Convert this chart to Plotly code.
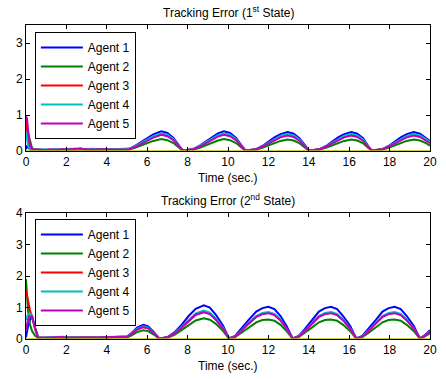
import plotly.graph_objects as go

# ---------------- data: 1st state ----------------
t_top = [0, 0.05, 0.1, 0.2, 0.3, 0.45, 0.6, 0.9, 1.2, 1.5, 1.8, 2.1, 2.4, 2.7, 3.0, 3.3, 3.6, 3.9,
         4.2, 4.5, 4.8, 5.1, 5.4, 5.7, 6.0, 6.3, 6.7, 7.0, 7.3, 7.55, 7.75, 8.0, 8.3, 8.6, 8.9, 9.2,
         9.5, 9.8, 10.1, 10.4, 10.65, 10.85, 11.1, 11.4, 11.7, 12.0, 12.3, 12.6, 12.95, 13.25, 13.55,
         13.8, 14.0, 14.25, 14.55, 14.85, 15.15, 15.45, 15.75, 16.1, 16.4, 16.7, 16.9, 17.1, 17.35,
         17.65, 17.95, 18.25, 18.55, 18.85, 19.2, 19.5, 19.8, 20.0]

top_a1 = [0.05, 0.15, 0.10, 0.05, 0.03, 0.03, 0.04,
          0.03, 0.04, 0.03, 0.05, 0.04, 0.05, 0.06, 0.04, 0.05, 0.04, 0.05, 0.04, 0.05, 0.05,
          0.06, 0.14, 0.25, 0.36, 0.46, 0.55, 0.50, 0.36, 0.18, 0.02,
          0.03, 0.06, 0.15, 0.27, 0.39, 0.49, 0.55, 0.50, 0.36, 0.18, 0.02,
          0.03, 0.05, 0.14, 0.26, 0.38, 0.47, 0.53, 0.48, 0.35, 0.17, 0.02,
          0.03, 0.05, 0.14, 0.26, 0.38, 0.47, 0.53, 0.48, 0.35, 0.17, 0.02,
          0.03, 0.05, 0.14, 0.26, 0.38, 0.47, 0.53, 0.48, 0.37, 0.28]
top_a2 = [0.30, 0.60, 0.50, 0.30, 0.08, 0.04, 0.03,
          0.02, 0.03, 0.02, 0.03, 0.02, 0.03, 0.04, 0.02, 0.03, 0.02, 0.03, 0.03, 0.03, 0.03,
          0.04, 0.09, 0.15, 0.22, 0.28, 0.33, 0.30, 0.22, 0.11, 0.01,
          0.02, 0.04, 0.09, 0.16, 0.23, 0.29, 0.33, 0.30, 0.22, 0.11, 0.01,
          0.02, 0.04, 0.09, 0.16, 0.23, 0.28, 0.32, 0.29, 0.21, 0.10, 0.01,
          0.02, 0.04, 0.09, 0.16, 0.23, 0.28, 0.32, 0.29, 0.21, 0.10, 0.01,
          0.02, 0.04, 0.09, 0.16, 0.23, 0.28, 0.32, 0.29, 0.22, 0.15]
top_a3 = [0.90, 0.50, 0.25, 0.08, 0.04, 0.03, 0.04,
          0.03, 0.04, 0.03, 0.04, 0.05, 0.04, 0.06, 0.04, 0.05, 0.04, 0.04, 0.04, 0.05, 0.04,
          0.05, 0.12, 0.21, 0.30, 0.39, 0.47, 0.43, 0.31, 0.15, 0.02,
          0.03, 0.05, 0.13, 0.23, 0.33, 0.42, 0.47, 0.43, 0.31, 0.15, 0.02,
          0.03, 0.05, 0.12, 0.22, 0.32, 0.40, 0.45, 0.41, 0.30, 0.14, 0.02,
          0.03, 0.05, 0.12, 0.22, 0.32, 0.40, 0.45, 0.41, 0.30, 0.14, 0.02,
          0.03, 0.05, 0.12, 0.22, 0.32, 0.40, 0.45, 0.41, 0.31, 0.23]
top_a4 = [0.55, 0.35, 0.15, 0.05, 0.03, 0.04, 0.05,
          0.04, 0.03, 0.05, 0.04, 0.06, 0.05, 0.05, 0.05, 0.06, 0.04, 0.05, 0.05, 0.06, 0.05,
          0.06, 0.13, 0.22, 0.32, 0.41, 0.49, 0.45, 0.33, 0.16, 0.02,
          0.03, 0.05, 0.14, 0.24, 0.35, 0.44, 0.49, 0.45, 0.33, 0.16, 0.02,
          0.03, 0.05, 0.13, 0.23, 0.34, 0.42, 0.47, 0.43, 0.31, 0.15, 0.02,
          0.03, 0.05, 0.13, 0.23, 0.34, 0.42, 0.47, 0.43, 0.31, 0.15, 0.02,
          0.03, 0.05, 0.13, 0.23, 0.34, 0.42, 0.47, 0.43, 0.33, 0.25]
top_a5 = [0.97, 0.90, 0.60, 0.15, 0.05, 0.04, 0.05,
          0.03, 0.04, 0.03, 0.05, 0.04, 0.06, 0.07, 0.04, 0.05, 0.04, 0.05, 0.04, 0.05, 0.05,
          0.05, 0.11, 0.20, 0.29, 0.37, 0.45, 0.41, 0.30, 0.15, 0.02,
          0.03, 0.05, 0.12, 0.22, 0.32, 0.40, 0.45, 0.41, 0.30, 0.15, 0.02,
          0.03, 0.05, 0.12, 0.21, 0.31, 0.38, 0.43, 0.39, 0.28, 0.14, 0.02,
          0.03, 0.05, 0.12, 0.21, 0.31, 0.38, 0.43, 0.39, 0.28, 0.14, 0.02,
          0.03, 0.05, 0.12, 0.21, 0.31, 0.38, 0.43, 0.39, 0.29, 0.22]

# ---------------- data: 2nd state ----------------
t_bot = [0, 0.05, 0.1, 0.2, 0.3, 0.45, 0.6, 0.9, 1.2, 1.5, 1.8, 2.1, 2.4, 2.7, 3.0, 3.3, 3.6, 3.9,
         4.2, 4.5, 4.8, 5.0, 5.25, 5.5, 5.8, 6.05, 6.3, 6.6, 7.0, 7.35, 7.7, 8.05, 8.4, 8.8, 9.1,
         9.4, 9.75, 10.05, 10.35, 10.65, 11.0, 11.4, 11.7, 12.0, 12.3, 12.6, 12.9, 13.2, 13.5, 13.8,
         14.15, 14.5, 14.8, 15.1, 15.4, 15.7, 16.05, 16.35, 16.65, 16.95, 17.3, 17.65, 17.95, 18.25,
         18.55, 18.85, 19.2, 19.5, 19.75, 20.0]

bot_a1 = [0.05, 0.25, 0.40, 0.60, 0.72, 0.35, 0.05,
          0.04, 0.05, 0.04, 0.06, 0.05, 0.04, 0.05, 0.04, 0.04, 0.05, 0.06, 0.06, 0.07, 0.07,
          0.08, 0.20, 0.36, 0.45, 0.40, 0.24, 0.02,
          0.06, 0.21, 0.45, 0.73, 0.96, 1.07, 1.00, 0.77, 0.43, 0.02,
          0.10, 0.31, 0.59, 0.87, 0.98, 1.02, 0.95, 0.73, 0.41, 0.02,
          0.10, 0.31, 0.59, 0.87, 0.98, 1.02, 0.95, 0.73, 0.41, 0.02,
          0.10, 0.31, 0.59, 0.87, 0.98, 1.02, 0.95, 0.73, 0.41, 0.02,
          0.12, 0.28]
bot_a2 = [1.90, 1.40, 0.90, 0.45, 0.25, 0.10, 0.04,
          0.03, 0.04, 0.03, 0.04, 0.03, 0.03, 0.04, 0.03, 0.03, 0.04, 0.04, 0.05, 0.05, 0.05,
          0.05, 0.12, 0.22, 0.28, 0.25, 0.15, 0.01,
          0.04, 0.13, 0.28, 0.45, 0.59, 0.66, 0.61, 0.48, 0.26, 0.01,
          0.06, 0.19, 0.36, 0.53, 0.60, 0.62, 0.58, 0.45, 0.25, 0.01,
          0.06, 0.19, 0.36, 0.53, 0.60, 0.62, 0.58, 0.45, 0.25, 0.01,
          0.06, 0.19, 0.36, 0.53, 0.60, 0.62, 0.58, 0.45, 0.25, 0.01,
          0.08, 0.18]
bot_a3 = [1.55, 1.35, 1.15, 0.90, 0.70, 0.30, 0.05,
          0.04, 0.05, 0.04, 0.05, 0.05, 0.04, 0.05, 0.04, 0.04, 0.05, 0.05, 0.06, 0.06, 0.07,
          0.07, 0.17, 0.30, 0.38, 0.34, 0.20, 0.02,
          0.05, 0.17, 0.36, 0.58, 0.77, 0.86, 0.80, 0.62, 0.34, 0.02,
          0.08, 0.25, 0.48, 0.71, 0.80, 0.83, 0.77, 0.60, 0.33, 0.02,
          0.08, 0.25, 0.48, 0.71, 0.80, 0.83, 0.77, 0.60, 0.33, 0.02,
          0.08, 0.25, 0.48, 0.71, 0.80, 0.83, 0.77, 0.60, 0.33, 0.02,
          0.10, 0.23]
bot_a4 = [0.60, 0.70, 0.78, 0.80, 0.75, 0.35, 0.06,
          0.05, 0.06, 0.05, 0.07, 0.06, 0.05, 0.06, 0.05, 0.05, 0.06, 0.07, 0.07, 0.08, 0.08,
          0.08, 0.18, 0.32, 0.40, 0.36, 0.21, 0.02,
          0.05, 0.18, 0.38, 0.61, 0.81, 0.90, 0.84, 0.65, 0.36, 0.02,
          0.09, 0.26, 0.50, 0.73, 0.83, 0.86, 0.80, 0.62, 0.34, 0.02,
          0.09, 0.26, 0.50, 0.73, 0.83, 0.86, 0.80, 0.62, 0.34, 0.02,
          0.09, 0.26, 0.50, 0.73, 0.83, 0.86, 0.80, 0.62, 0.34, 0.02,
          0.10, 0.24]
bot_a5 = [0.30, 0.50, 0.62, 0.72, 0.72, 0.35, 0.05,
          0.04, 0.05, 0.05, 0.06, 0.05, 0.04, 0.05, 0.05, 0.04, 0.05, 0.06, 0.06, 0.07, 0.07,
          0.07, 0.17, 0.30, 0.38, 0.34, 0.20, 0.02,
          0.05, 0.17, 0.36, 0.58, 0.77, 0.85, 0.79, 0.61, 0.34, 0.02,
          0.08, 0.25, 0.48, 0.70, 0.79, 0.82, 0.76, 0.59, 0.33, 0.02,
          0.08, 0.25, 0.48, 0.70, 0.79, 0.82, 0.76, 0.59, 0.33, 0.02,
          0.08, 0.25, 0.48, 0.70, 0.79, 0.82, 0.76, 0.59, 0.33, 0.02,
          0.10, 0.23]

zero_t = [0, 20]
zero_v = [0, 0]

agent_names = ["Agent 1", "Agent 2", "Agent 3", "Agent 4", "Agent 5"]
agent_colors = ["#0000FF", "#008000", "#FF0000", "#00BFBF", "#BF00BF"]
zero_color = "#BFBF00"

titles = ["Tracking Error (1<sup>st</sup> State)", "Tracking Error (2<sup>nd</sup> State)"]
x_title = "Time (sec.)"
x_ticks = [0, 2, 4, 6, 8, 10, 12, 14, 16, 18, 20]
top_yticks = [0, 1, 2, 3]
bot_yticks = [0, 1, 2, 3, 4]

FONT = "Liberation Sans, Arial, sans-serif"

fig = go.Figure()
for name, col, vals in zip(agent_names, agent_colors, [top_a1, top_a2, top_a3, top_a4, top_a5]):
    fig.add_trace(go.Scatter(x=t_top, y=vals, mode="lines", name=name,
                             line=dict(color=col, width=2), xaxis="x", yaxis="y", legend="legend"))
fig.add_trace(go.Scatter(x=zero_t, y=zero_v, mode="lines", line=dict(color=zero_color, width=1.5),
                         showlegend=False, xaxis="x", yaxis="y"))
for name, col, vals in zip(agent_names, agent_colors, [bot_a1, bot_a2, bot_a3, bot_a4, bot_a5]):
    fig.add_trace(go.Scatter(x=t_bot, y=vals, mode="lines", name=name,
                             line=dict(color=col, width=2), xaxis="x2", yaxis="y2", legend="legend2"))
fig.add_trace(go.Scatter(x=zero_t, y=zero_v, mode="lines", line=dict(color=zero_color, width=1.5),
                         showlegend=False, xaxis="x2", yaxis="y2"))

axis_common = dict(showline=True, linecolor="black", linewidth=1, mirror="ticks", ticks="inside",
                   ticklen=4, tickcolor="black", showgrid=False, zeroline=False,
                   tickfont=dict(family=FONT, size=12, color="black"))

W, H = 446, 379
T, B, L, R = 25, 40, 26, 9
area = H - T - B
def py(p):
    # p: target pixel row in the window
    return (H - B - p) / area

legend_common = dict(bgcolor="white", bordercolor="black", borderwidth=1,
                     font=dict(family=FONT, size=12, color="black"),
                     xanchor="left", yanchor="top", tracegroupgap=0, itemwidth=42)

fig.update_layout(
    width=W, height=H,
    margin=dict(l=L, r=R, t=T, b=B),
    paper_bgcolor="white", plot_bgcolor="white",
    font=dict(family=FONT, size=12, color="black"),
    xaxis=dict(domain=[0, 1], range=[0, 20], tickvals=x_ticks, anchor="y", **axis_common),
    yaxis=dict(domain=[py(151), 1], range=[0, 3.5], tickvals=top_yticks, anchor="x", **axis_common),
    xaxis2=dict(domain=[0, 1], range=[0, 20], tickvals=x_ticks, anchor="y2", **axis_common),
    yaxis2=dict(domain=[0, py(213)], range=[0, 4], tickvals=bot_yticks, anchor="x2", **axis_common),
    legend=dict(x=9 / 411, y=py(32), **legend_common),
    legend2=dict(x=9 / 411, y=py(219), **legend_common),
    annotations=[
        dict(text=titles[0], x=0.5, y=py(12), xref="paper", yref="paper", showarrow=False,
             xanchor="center", yanchor="middle", font=dict(family=FONT, size=12)),
        dict(text=titles[1], x=0.5, y=py(200), xref="paper", yref="paper", showarrow=False,
             xanchor="center", yanchor="middle", font=dict(family=FONT, size=12)),
        dict(text=x_title, x=0.5, y=py(178), xref="paper", yref="paper", showarrow=False,
             xanchor="center", yanchor="middle", font=dict(family=FONT, size=12)),
        dict(text=x_title, x=0.5, y=py(366), xref="paper", yref="paper", showarrow=False,
             xanchor="center", yanchor="middle", font=dict(family=FONT, size=12)),
    ],
    showlegend=True,
)

fig.write_html("out.html", config={"displayModeBar": False},
               post_script="document.body.style.margin='0';")
